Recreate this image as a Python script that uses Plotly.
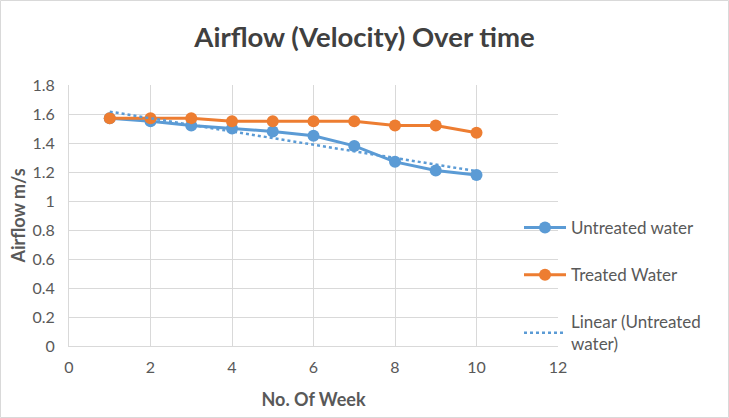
import numpy as np
import plotly.graph_objects as go

weeks = [1, 2, 3, 4, 5, 6, 7, 8, 9, 10]
untreated = [1.57, 1.55, 1.52, 1.50, 1.48, 1.45, 1.38, 1.27, 1.21, 1.18]
treated = [1.57, 1.57, 1.57, 1.55, 1.55, 1.55, 1.55, 1.52, 1.52, 1.47]
x_ticks = [0, 2, 4, 6, 8, 10, 12]
y_ticks = [0, 0.2, 0.4, 0.6, 0.8, 1.0, 1.2, 1.4, 1.6, 1.8]

slope, intercept = np.polyfit(weeks, untreated, 1)
trend = [slope * w + intercept for w in weeks]

BLUE = "#5B9BD5"
ORANGE = "#ED7D31"
FONT = "Lato"

fig = go.Figure()
fig.add_trace(go.Scatter(x=weeks, y=untreated, mode="lines+markers", name="Untreated water",
                         line=dict(color=BLUE, width=3), marker=dict(size=12, color=BLUE),
                         legendgroup="a"))
fig.add_trace(go.Scatter(x=weeks, y=treated, mode="lines+markers", name="Treated Water",
                         line=dict(color=ORANGE, width=3), marker=dict(size=12, color=ORANGE),
                         legendgroup="b"))
fig.add_trace(go.Scatter(x=weeks, y=trend, mode="lines", name="Linear (Untreated<br>water)",
                         line=dict(color=BLUE, width=2.5, dash="dot"), legendgroup="c"))

W, H = 729, 418
ml, mr, mt, mb = 69, 171, 85, 72
pw, ph = W - ml - mr, H - mt - mb

fig.update_layout(
    width=W, height=H,
    margin=dict(l=ml, r=mr, t=mt, b=mb),
    paper_bgcolor="white", plot_bgcolor="white",
    font=dict(family=FONT, color="#595959", size=16),
    title=dict(text="<b>Airflow (Velocity) Over time</b>", x=0.5, xanchor="center",
               y=1 - 37 / H, yanchor="middle", font=dict(size=27.5, color="#404040", family=FONT)),
    showlegend=True,
    legend=dict(x=(519 - ml) / pw, y=1 - (210 - mt) / ph, xanchor="left", yanchor="top",
                font=dict(size=17, color="#595959"), tracegroupgap=22,
                itemwidth=42, bgcolor="rgba(0,0,0,0)"),
    xaxis=dict(range=[0, 12], tickvals=x_ticks, showgrid=True, gridcolor="#D9D9D9", gridwidth=1,
               zeroline=False, showline=True, linecolor="#D9D9D9", linewidth=1, ticks="",
               tickfont=dict(size=16), fixedrange=True, ticklabelstandoff=7,
               title=dict(text="<b>No. Of Week</b>", font=dict(size=18, color="#595959"), standoff=18)),
    yaxis=dict(range=[0, 1.8], tickvals=y_ticks, showgrid=True, gridcolor="#D9D9D9", gridwidth=1,
               zeroline=False, showline=True, linecolor="#D9D9D9", linewidth=1, ticks="",
               tickfont=dict(size=16), fixedrange=True, ticklabelstandoff=10,
               title=dict(text="<b>Airflow m/s</b>", font=dict(size=18, color="#595959"), standoff=2)),
)

fig.add_shape(type="rect", xref="paper", yref="paper",
              x0=(0.5 - ml) / pw, x1=(W - 0.5 - ml) / pw,
              y0=(mb - 0.5) / ph * -1, y1=1 + (mt - 0.5) / ph,
              line=dict(color="#D9D9D9", width=1), layer="below")

fig.write_html("out.html", config={"displayModeBar": False},
               post_script="document.body.style.margin='0';document.body.style.padding='0';")
